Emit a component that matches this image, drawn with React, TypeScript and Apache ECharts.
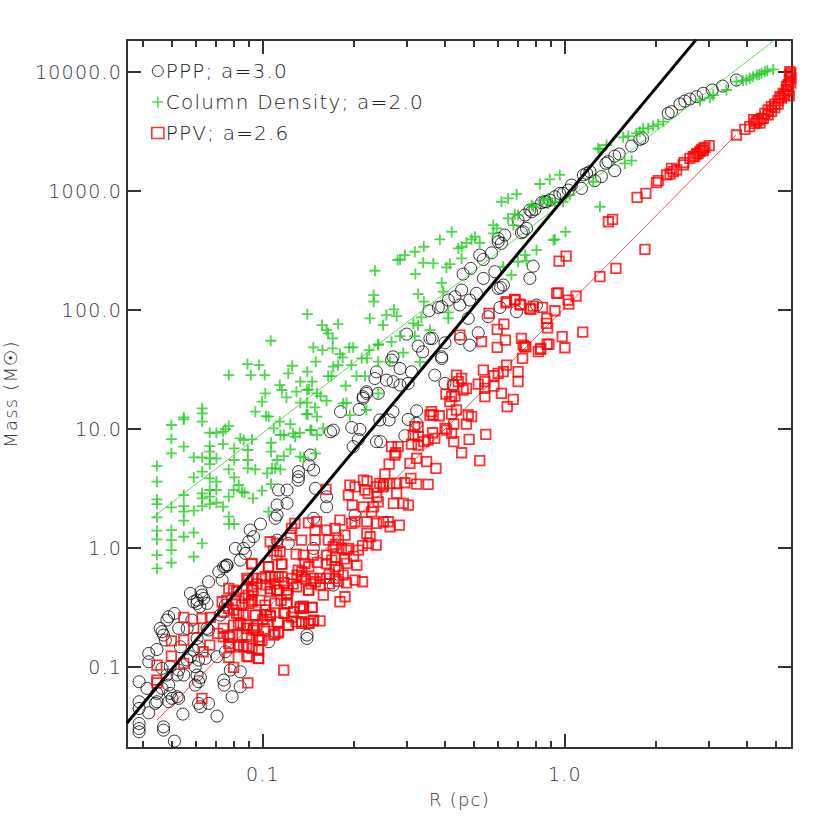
import React, { useEffect, useRef } from "react";
import * as echarts from "echarts";

// All points are [log10 R(pc), log10 Mass(Msun)].
const pppPoints: number[][] = [
[-1.41,-1.123],[-1.41,-1.291],[-1.41,-1.348],[-1.41,-1.474],[-1.41,-1.516],[-1.41,-1.544],[-1.378,-1.384],[-1.378,-0.885],[-1.378,-0.955],[-1.351,-0.852],[-1.351,-1.221],[-1.351,-1.291],[-1.329,-1.502],[-1.329,-1.53],[-1.293,-1.622],[-1.265,-1.395],[-1.312,-1.291],[-1.307,-1.221],[-1.312,-1.151],[-1.334,-1.011],[-1.307,-0.997],[-1.284,-1.067],[-1.262,-1.067],[-1.312,-0.577],[-1.293,-0.549],[-1.34,-0.675],[-1.329,-0.731],[-1.279,-0.675],[-1.24,-0.381],[-1.229,-0.451],[-1.218,-0.437],[-1.202,-0.395],[-1.196,-0.423],[-1.18,-0.283],[-1.135,-0.269],[-1.146,-0.199],[-1.124,-0.157],[-1.119,-0.143],[-1.224,-0.997],[-1.218,-1.067],[-1.213,-1.123],[-1.207,-1.087],[-1.224,-1.151],[-1.279,-1.263],[-1.301,-1.263],[-1.213,-1.305],[-1.207,-1.333],[-1.18,-1.305],[-1.152,-1.412],[-1.102,-1.249],[-1.075,-1.165],[-1.13,-1.109],[-1.128,-1.151],[-1.075,-1.039],[-1.108,-1.025],[-1.213,-0.941],[-1.191,-0.927],[-1.152,-0.913],[-1.124,-0.871],[-0.854,-0.731],[-0.854,-0.759],[-1.218,-0.465],[-1.209,-0.493],[-1.185,-0.675],[-1.218,-0.759],[-1.235,-0.605],[-1.13,-0.535],[-0.981,-0.787],
[-1.334,-0.703],[-1.318,-0.605],[-1.205,-0.367],[-1.185,-0.465],[-1.251,-0.675],[-1.229,-0.857],[-1.213,-0.829],[-1.18,-0.689],[-1.141,-0.563],[-1.124,-0.479],[-1.273,-0.829],[-1.323,-0.773],[-1.251,-0.941],[-1.24,-0.913],[-1.318,-1.067],[-1.279,-1.025],[-1.334,-1.179],[-1.284,-1.249],[-1.356,-1.305],[-1.384,-1.179],
[-0.843,0.782],[-0.848,0.698],[-0.832,0.656],[-0.882,0.642],[-0.882,0.6],[-0.826,0.502],[-0.948,0.488],[-0.92,0.488],[-0.92,0.376],[-0.953,0.362],[-0.953,0.278],[-0.959,0.25],[-1.008,0.202],[-1.042,0.151],[-1.031,0.096],[-1.047,0.053],[-1.064,-0.003],[-1.091,-0.003],[-1.058,-0.045],[-1.075,-0.101],[-1.119,-0.143],[-1.13,-0.157],[-0.953,0.067],[-0.832,0.25],
[-0.695,0.277],[-0.833,-0.003],[-0.767,-0.311],[-0.916,0.039],[-0.789,0.347],[-0.789,0.431],[-0.883,0.571],
[-0.061,2.91],[-0.077,2.902],[-0.099,2.846],[-0.116,2.84],[-0.132,2.798],[-0.155,2.756],[-0.127,2.686],[-0.138,2.658],[-0.144,2.649],[-0.199,2.63],[-0.221,2.602],[-0.21,2.56],[-0.221,2.574],[-0.243,2.481],[-0.282,2.462],[-0.27,2.425],[-0.312,2.35],[-0.337,2.302],[-0.232,2.322],[-0.27,2.266],[-0.105,2.369],[-0.116,2.266],[-0.204,2.21],[-0.213,2.19],[-0.221,2.182],[-0.293,2.14],[-0.342,2.168],[-0.364,2.112],[-0.386,2.084],[-0.408,2.028],[-0.419,2.022],[-0.45,1.994],[-0.348,2.042],[-0.315,2.084],[-0.32,1.93],[-0.254,1.944],[-0.215,2.022],[-0.16,1.986],[-0.094,2.042],[-0.287,1.809],[-0.346,1.761],[-0.315,1.705],[-0.397,1.725],[-0.447,1.761],[-0.439,1.761],[-0.486,1.697],[-0.471,1.649],[-0.408,1.607],[-0.408,1.593],[-0.524,1.798],[-0.569,1.607],[-0.574,1.579],[-0.546,1.509],[-0.624,1.481],[-0.629,1.425],[-0.591,1.411],[-0.508,1.481],[-0.431,1.453],
[-0.569,1.398],[-0.546,1.37],[-0.519,1.384],[-0.657,1.314],[-0.668,1.258],[-0.618,1.3],[-0.681,1.165],[-0.569,1.146],[-0.582,1.076],[-0.613,1.076],[-0.679,0.997],[-0.684,0.913],[-0.706,1.014],[-0.701,0.852],[-0.624,0.894],[-0.61,0.894],[-0.53,0.944],[-0.519,1.081],[-0.491,1.154],[-0.491,1.048],[-0.397,1.384],[-0.37,1.37],
[-0.743,1.146],[-0.767,0.991],[-0.776,0.977],[-0.657,1.3],[-0.668,1.272],
[0.568,3.933],[0.522,3.882],[0.488,3.849],[0.458,3.821],[0.436,3.793],[0.414,3.773],[0.397,3.756],[0.381,3.731],[0.353,3.667],[0.342,3.653],[0.257,3.443],[0.248,3.434],[0.221,3.378],[0.18,3.311],[0.165,3.294],[0.143,3.247],[0.136,3.233],[0.165,3.171],[0.121,3.121],[0.099,3.087],[0.083,3.163],[0.072,3.148],[0.061,3.135],[0.055,3.022],[0.022,3.05],[0.011,3.008],[-0.006,2.98],[-0.017,2.98],[-0.033,2.952],[-0.05,2.924],[-0.066,2.91],[-0.11,2.826]
];

const columnDensityPoints: number[][] = [
[-1.351,0.689],[-1.351,0.558],[-1.351,0.409],[-1.351,0.37],[-1.351,0.258],[-1.351,0.146],[-1.351,0.073],[-1.351,-0.059],[-1.351,-0.171],
[-1.303,1.034],[-1.303,0.916],[-1.303,0.796],[-1.303,0.342],[-1.303,0.151],[-1.303,0.067],[-1.303,-0.017],[-1.303,-0.123],
[-1.262,1.098],[-1.262,1.081],[-1.262,0.852],[-1.262,0.446],[-1.262,0.353],[-1.262,0.306],[-1.262,0.23],[-1.262,0.095],
[-1.229,0.762],[-1.229,0.594],[-1.229,0.314],[-1.229,0.129],[-1.229,-0.073],
[-1.201,1.174],[-1.201,1.132],[-1.201,1.062],[-1.201,0.762],[-1.201,0.642],[-1.201,0.46],[-1.201,0.418],[-1.201,0.353],[-1.201,0.039],
[-1.176,0.969],[-1.176,0.857],[-1.176,0.81],[-1.176,0.754],[-1.176,0.706],[-1.176,0.586],[-1.176,0.488],[-1.176,0.432],[-1.176,0.37],
[-1.154,0.969],[-1.154,0.754],[-1.154,0.558],[-1.154,0.488],[-1.154,0.381],
[-1.132,0.978],[-1.132,0.874],[-1.132,0.348],[-1.124,1.0],
[-1.113,1.025],[-1.113,0.661],[-1.113,0.432],[-1.113,0.264],[-1.113,0.202],
[-1.095,0.838],[-1.095,0.74],[-1.095,0.594],[-1.095,0.202],[-1.097,0.488],[-1.08,0.53],
[-1.075,0.922],[-1.064,0.908],[-1.069,0.474],[-1.061,0.465],[-1.05,0.824],[-1.05,0.74],[-1.05,0.67],
[-1.036,0.913],[-1.033,0.418],[-1.025,1.146],[-1.025,0.661],[-1.003,1.23],[-1.003,0.482],[-0.992,1.3],[-0.989,1.109],[-0.981,1.104],[-0.986,0.628],[-0.981,0.306],[-0.973,0.885],[-0.973,0.81],[-0.973,0.538],[-0.964,1.006],[-0.97,0.67],[-0.959,0.67],[-0.953,0.74],[-0.944,1.37],[-0.937,1.328],[-0.944,1.062],[-0.942,0.95],[-0.931,0.95],[-0.942,0.661],[-0.922,1.266],[-0.931,0.773],[-0.909,1.042],[-0.909,0.829],[-0.9,0.964],[-0.889,1.314],[-0.893,0.936],[-0.878,0.969],[-0.876,0.768],[-0.865,0.762],[-0.876,1.398],[-0.854,1.328],[-0.848,1.334],[-0.876,1.222],[-0.854,1.222],[-0.852,1.123],[-0.843,0.992],[-0.837,1.398],[-0.821,1.3],[-0.821,1.104],[-0.821,0.95],[-0.826,0.796],
[-0.629,2.33],[-0.633,2.126],[-0.633,2.07],[-0.646,1.93],[-0.853,1.966],[-0.804,1.874],[-0.789,1.832],[-0.784,1.804],[-0.751,1.882],[-0.769,1.762],[-0.974,1.742],[-0.833,1.686],[-0.803,1.664],[-0.769,1.678],[-0.714,1.686],[-0.701,1.686],[-0.745,1.63],[-0.736,1.602],[-0.825,1.566],[-0.648,1.664],[-0.673,1.594],[-0.655,1.594],[-0.618,1.706],[-0.618,1.566],[-1.051,1.546],[-1.013,1.538],[-0.903,1.532],[-1.113,1.454],[-1.04,1.454],[-0.994,1.454],[-0.916,1.468],[-0.853,1.482],[-0.751,1.538],[-0.767,1.524],[-0.707,1.538],[-0.784,1.445],[-0.773,1.445],[-0.69,1.445],[-0.662,1.445],[-0.726,1.364],[-0.809,1.277],[-0.789,1.238],[-0.828,1.182],[-0.723,1.221],[-0.734,1.215],[-0.712,1.117],[-0.657,1.16],[-0.8,1.005],[-0.839,0.991],[-0.856,1.126],[-0.618,1.3],
[-0.16,2.974],[-0.188,2.938],[-0.21,2.91],[-0.055,2.938],[-0.074,2.924],[-0.11,2.882],[-0.188,2.77],[-0.166,2.806],[-0.155,2.798],[-0.171,2.714],[-0.237,2.714],[-0.237,2.644],[-0.226,2.686],[-0.375,2.658],[-0.414,2.593],[-0.298,2.616],[-0.309,2.593],[-0.326,2.565],[-0.282,2.565],[-0.342,2.532],[-0.353,2.518],[-0.467,2.532],[-0.497,2.49],[-0.53,2.462],[-0.546,2.425],[-0.554,2.42],[-0.469,2.397],[-0.436,2.392],[-0.381,2.386],[-0.392,2.358],[-0.342,2.434],[-0.495,2.302],[-0.094,2.504],[-0.132,2.462],[-0.155,2.406],[-0.127,2.414],[-0.204,2.364],[-0.177,2.294],[-0.408,2.229],[-0.403,2.154],[-0.486,2.134],[-0.467,2.07],[-0.386,1.98],[-0.386,1.93],[-0.566,2.005],[-0.557,1.949],[-0.591,1.958],[-0.602,1.873],[-0.475,1.938],[-0.502,1.888],[-0.486,1.873],[-0.447,1.832],[-0.546,1.781],[-0.497,1.781],[-0.574,1.733],[-0.618,1.714],[-0.535,1.641],[-0.58,1.565],[-0.48,1.565],
[0.69,4.022],[0.67,4.011],[0.662,4.003],[0.651,3.989],[0.643,3.98],[0.635,3.975],[0.623,3.961],[0.612,3.947],[0.601,3.933],[0.59,3.927],[0.568,3.919],[0.535,3.849],[0.491,3.807],[0.48,3.784],[0.447,3.759],[0.326,3.583],[0.309,3.56],[0.292,3.546],[0.276,3.527],[0.259,3.527],[0.248,3.499],[0.237,3.485],[0.21,3.462],[0.193,3.451],[0.138,3.387],[0.11,3.359],[0.116,3.35],[-0.017,3.135],[-0.05,3.098],[-0.083,3.059],[0.221,3.255],[0.199,3.232],[0.116,2.868],[0.094,3.078],[0.016,2.966],[-0.006,2.91],[-0.033,2.91],[-0.055,2.896],[-0.105,2.868],[0.002,2.658],[-0.033,2.593],[-0.038,2.588]
];

const ppvPoints: number[][] = [
[-1.351,-0.983],[-1.351,-1.109],[-1.351,-1.132],[-1.303,-0.779],[-1.303,-0.908],[-1.262,-0.583],[-1.262,-0.773],[-1.262,-0.969],[-1.229,-0.675],[-1.202,-0.591],[-1.174,-0.583],[-1.198,-0.871],[-1.176,-0.815],[-1.15,-0.717],[-1.202,-1.263],[-1.113,-0.339],[-1.135,-0.451],[-1.119,-0.437],[-1.097,-0.353],[-1.097,-0.521],[-1.13,-0.535],[-1.113,-0.731],[-1.113,-0.801],[-1.113,-0.919],[-1.097,-1.003],[-1.05,-1.132],[-0.931,-1.025],[-1.014,-0.927],[-1.014,-0.857],[-1.053,-0.908],[-1.053,-0.731],[-1.08,-0.815],[-1.064,-0.829],[-1.036,-0.843],[-1.075,-0.633],[-1.097,-0.647],[-1.08,-0.549],[-1.025,-0.563],[-1.053,-0.675],[-1.031,-0.675],[-1.014,-0.773],[-0.975,-0.563],[-0.931,-0.549],[-0.92,-0.465],[-0.915,-0.647],[-0.871,-0.619],[-0.848,-0.633],[-0.865,-0.507],[-0.837,-0.499],[-0.832,-0.605],[-0.964,-0.731],[-0.948,-0.703],[-1.003,-0.773],[-1.053,-0.255],[-1.036,-0.353],[-1.036,-0.451],[-0.992,-0.241],[-0.959,-0.241],[-0.937,-0.241],[-1.036,-0.135],[-0.981,-0.157],[-0.937,-0.135],[-0.975,-0.367],[-0.953,-0.353],[-0.92,-0.381],[-0.887,-0.227],[-0.871,-0.199],[-0.848,-0.157],[-0.848,-0.353],[-0.826,-0.283],[-0.876,-0.493],[-1.047,-0.465],[-1.069,-0.731],
[-1.06,-0.42],[-1.01,-0.44],[-0.99,-0.52],[-1.065,-0.56],[-1.02,-0.65],[-0.995,-0.68],[-0.94,-0.44],[-0.9,-0.3],[-0.93,-0.29],[-0.96,-0.3],[-0.99,-0.31],[-1.02,-0.3],[-0.95,-0.62],[-0.905,-0.58],[-0.89,-0.62],[-1.07,-0.48],[-1.09,-0.47],[-0.985,-0.62],[-1.0,-0.6],[-0.86,-0.26],[-0.84,-0.3],[-0.81,-0.31],[-0.78,-0.22],[-0.78,-0.3],[-0.75,-0.28],[-0.82,-0.12],[-0.79,-0.13],[-0.76,-0.08],[-0.73,-0.09],[-0.7,-0.07],[-0.76,0.03],[-0.74,0.0],[-0.67,0.02],
[-0.791,0.493],[-0.717,0.445],[-0.712,0.529],[-0.695,0.515],[-0.704,0.361],[-0.651,0.459],[-0.662,0.487],[-0.623,0.431],[-0.601,0.529],[-0.667,0.571],[-0.557,0.459],[-0.568,0.375],[-0.535,0.375],[-0.518,0.361],[-0.557,0.543],[-0.618,0.389],[-0.634,0.347],[-0.64,0.305],[-0.667,0.347],[-0.601,0.221],[-0.585,0.221],[-0.579,0.179],[-0.548,0.193],[-0.623,0.207],[-0.656,0.221],[-0.695,0.221],[-0.706,0.207],[-0.745,0.235],[-0.761,0.165],[-0.789,0.151],[-0.728,0.109],[-0.783,0.067],[-0.894,0.207],[-0.905,0.165],[-0.908,0.109],[-0.849,0.212],[-0.822,0.221],[-0.827,0.151],[-0.827,0.067],[-0.872,0.067],[-0.976,0.053],[-0.952,0.039],[-0.943,-0.031],[-0.954,-0.059],[-0.965,-0.023],[-0.89,-0.051],[-0.866,-0.059],[-0.861,-0.129],[-0.833,-0.059],[-0.789,-0.059],[-0.767,0.011],[-0.75,0.067],[-0.772,-0.101],[-0.761,-0.157],[-0.723,-0.017],[-0.684,-0.017],[-0.717,-0.003],[-0.656,0.123],[-0.645,0.095],[-0.625,0.025],[-0.651,0.039],[-1.037,-0.129],[-0.982,-0.157],[-0.938,-0.135],[-0.723,-0.129],[-0.689,-0.143],[-0.883,-0.185],[-0.872,-0.241],[-0.905,-0.255],[-0.949,-0.241],[-0.976,-0.241],[-1.004,-0.255],[-1.032,-0.255],[-1.048,-0.269],[-1.087,-0.367],[-1.037,-0.325],[-1.032,-0.353],[-1.048,-0.395],[-1.037,-0.437],[-0.976,-0.339],[-0.954,-0.353],[-0.916,-0.353],[-0.921,-0.395],[-0.888,-0.325],[-0.849,-0.353],[-0.833,-0.255],[-0.811,-0.255],[-0.789,-0.255],[-0.75,-0.185],[-0.761,-0.255],[-0.734,-0.227],[-0.723,-0.292],[-0.695,-0.269],[-0.67,-0.283],[-0.8,-0.395],[-0.728,-0.409],[-0.745,-0.451],[-0.993,-0.479],[-0.96,-0.465],[-0.921,-0.465],[-0.877,-0.507],[-0.866,-0.488],[-0.838,-0.499],[-0.976,-0.572],[-0.987,-0.563],[-0.927,-0.549],[-0.899,-0.535],[-0.916,-0.647],[-0.872,-0.633],[-0.849,-0.633],[-0.833,-0.611],[-0.811,-0.611],[-0.96,-0.723],[-0.949,-0.712],[-1.01,-0.773],[-1.015,-0.745],[-1.032,-0.689],[-1.026,-0.563],[-1.054,-0.647],[-1.087,-0.549],[-1.081,-0.647],[-1.114,-0.507],[-1.109,-0.745],[-1.109,-0.829],[-1.081,-0.829],[-1.054,-0.824],[-1.015,-0.858],[-1.015,-0.928],[-1.048,-0.914],[-1.131,-0.675],[-1.131,-0.745],
[-0.348,1.79],[-0.276,1.734],[-0.224,1.838],[-0.202,1.882],[-0.197,1.748],[-0.224,1.686],[-0.144,1.762],[-0.133,1.692],[-0.14,1.594],[-0.061,1.888],[-0.059,1.714],[-0.081,1.67],[-0.088,1.65],[-0.193,1.538],[-0.27,1.496],[-0.204,1.482],[-0.221,1.468],[-0.155,1.482],[-0.155,1.398],[-0.235,1.448],[-0.359,1.454],[-0.342,1.426],[-0.353,1.398],[-0.287,1.378],[-0.265,1.398],[-0.265,1.342],[-0.235,1.361],[-0.326,1.342],[-0.337,1.328],[-0.37,1.37],[-0.394,1.294],[-0.375,1.272],[-0.381,1.23],[-0.364,1.277],[-0.21,1.3],[-0.265,1.272],[-0.171,1.249],[-0.191,1.188],[-0.359,1.16],[-0.442,1.146],[-0.447,1.118],[-0.436,1.118],[-0.416,1.112],[-0.375,1.126],[-0.32,1.118],[-0.309,1.104],[-0.326,1.042],[-0.368,1.042],[-0.392,0.992],[-0.397,1.006],[-0.375,0.964],[-0.262,0.955],[-0.317,0.913],[-0.438,0.969],[-0.368,0.894],[-0.431,0.922],[-0.453,0.908],[-0.467,0.894],[-0.486,0.936],[-0.486,0.866],[-0.508,0.874],[-0.497,1.02],[-0.486,1.014],[-0.502,0.95],[-0.574,0.852],[-0.552,0.852],[-0.56,0.801],[-0.563,0.782],[-0.491,0.754],[-0.458,0.726],[-0.513,0.711],[-0.427,0.669],[-0.582,0.706],[-0.596,0.622],[-0.342,0.801],[-0.282,0.734],[-0.655,0.563],[-0.613,0.543],[-0.58,0.543],[-0.53,0.549],[-0.51,0.585],[-0.491,0.538],[-0.453,0.535],[-0.624,0.515],[-0.602,0.515],
[0.158,2.762],[0.144,2.742],[0.265,2.509],[0.169,2.35],[0.116,2.28],[0.004,2.453],[-0.019,2.411],[0.037,2.117],[-0.022,2.145],[-0.027,2.14],[0.011,2.084],[0.013,2.05],[-0.033,1.994],[-0.06,1.93],[-0.057,1.851],[0.059,1.815],[-0.009,1.776],[0,1.683],[-0.053,1.711],[-0.08,1.678],[-0.138,1.706],[-0.129,1.691],[-0.193,2.07],[-0.165,2.089],[-0.149,2.05],[-0.116,2.014],[-0.113,2.005],[-0.105,2.033],[-0.074,2.022],[-0.251,1.972],[-0.195,2.061],[-0.166,2.084],[-0.147,2.042],
[0.239,2.947],[0.268,2.98],[0.303,3.07],[0.309,3.087],[0.337,3.135],[0.348,3.143],[0.359,3.163],[0.37,3.177],[0.353,3.191],[0.392,3.219],[0.394,3.238],[0.414,3.275],[0.425,3.289],[0.436,3.311],[0.447,3.331],[0.452,3.345],[0.458,3.359],[0.464,3.367],[0.478,3.381],[0.43,3.294],[0.441,3.317],[0.458,3.339],
[0.568,3.471],[0.596,3.518],[0.612,3.541],[0.629,3.569],[0.64,3.597],[0.651,3.611],[0.662,3.653],[0.673,3.681],[0.684,3.709],[0.695,3.731],[0.706,3.759],[0.712,3.793],[0.723,3.821],[0.734,3.849],[0.739,3.891],[0.743,3.933],[0.745,3.975],[0.745,4.003],[0.673,3.64],[0.684,3.67],[0.695,3.7],[0.706,3.73],[0.717,3.78],[0.728,3.81],[0.739,3.84],[0.734,3.88],[0.743,3.8],[0.748,3.91],[0.748,3.95],[0.748,3.99],[0.646,3.57],[0.657,3.61],[0.635,3.585],[0.625,3.6]
];

const pppFit: number[][] = [[-1.45,-1.47],[0.434,4.27]];
const columnDensityFit: number[][] = [[-1.368,0.252],[0.695,4.269]];
const ppvFit: number[][] = [[-1.351,-1.445],[0.566,3.47]];

const xMajorTicks = [0.1, 1];
const xMinorTicks = [0.04, 0.05, 0.06, 0.07, 0.08, 0.09, 0.2, 0.3, 0.4, 0.5, 0.6, 0.7, 0.8, 0.9, 2, 3, 4, 5];
const yMajorTicks = [0.1, 1, 10, 100, 1000, 10000];
const xRange = [0.03548, 5.65];
const yRange = [0.0209, 18580];

const toValues = (pts: number[][]) => pts.map(([r, m]) => [Math.pow(10, r), Math.pow(10, m)]);
const FONT = "DejaVu Sans";
const INK = "#333";
const TEXT = "#333";
const GREEN = "#22cc22";

export default function App() {
  const ref = useRef<HTMLDivElement>(null);
  useEffect(() => {
    const chart = echarts.init(ref.current!, undefined, { renderer: "svg" });
    const base = (extra: any) => ({
      type: "log",
      logBase: 10,
      splitLine: { show: false },
      axisLabel: { show: false },
      axisLine: { show: false, onZero: false },
      ...extra,
    });
    const xBase = { min: xRange[0], max: xRange[1] };
    const yBase = { min: yRange[0], max: yRange[1] };
    const line = { show: true, onZero: false, lineStyle: { color: INK, width: 2 } };
    const major = (vals: number[]) => ({
      show: true, inside: true, length: 14, customValues: vals, lineStyle: { color: INK, width: 2 },
    });
    const minor = {
      show: true, inside: true, length: 7, customValues: xMinorTicks, lineStyle: { color: INK, width: 2 },
    };
    const fmt = (v: number) => Number(v).toFixed(1);
    const labelStyle = { fontFamily: FONT, fontSize: 19, fontWeight: 200, color: TEXT };
    const nameStyle = { fontFamily: FONT, fontSize: 18, fontWeight: 200, color: TEXT };
    chart.setOption({
      animation: false,
      backgroundColor: "#fff",
      grid: { left: 127, right: 38, top: 40, bottom: 82, outerBoundsMode: "none" },
      legend: {
        left: 151, top: 61, padding: 0, orient: "vertical", itemGap: 11, itemWidth: 12, itemHeight: 11,
        textStyle: { fontFamily: FONT, fontSize: 20, fontWeight: 200, color: "#222", padding: [0, 0, 0, -3] },
        data: [
          { name: "PPP; a=3.0", itemStyle: { borderWidth: 1 } },
          { name: "Column Density; a=2.0", itemStyle: { borderWidth: 1.5 } },
          { name: "PPV; a=2.6", itemStyle: { borderWidth: 1.6 } },
        ],
      },
      xAxis: [
        base({
          ...xBase, position: "bottom", axisLine: line, axisTick: major(xMajorTicks),
          axisLabel: { show: true, customValues: xMajorTicks, margin: 16, formatter: fmt, ...labelStyle },
          name: "R (pc)", nameLocation: "middle", nameGap: 42, nameTextStyle: nameStyle,
        }),
        base({ ...xBase, position: "bottom", axisTick: minor }),
        base({ ...xBase, position: "top", axisLine: line, axisTick: major(xMajorTicks) }),
        base({ ...xBase, position: "top", axisTick: minor }),
      ],
      yAxis: [
        base({
          ...yBase, position: "left", axisLine: line, axisTick: major(yMajorTicks),
          axisLabel: { show: true, customValues: yMajorTicks, margin: 5, formatter: fmt, ...labelStyle },
          name: "Mass (M☉)", nameLocation: "middle", nameGap: 108, nameRotate: 90, nameTextStyle: nameStyle,
        }),
        base({ ...yBase, position: "right", axisLine: line, axisTick: major(yMajorTicks) }),
      ],
      series: [
        {
          name: "PPP; a=3.0", type: "scatter", symbol: "circle", symbolSize: 12, clip: true,
          itemStyle: { color: "transparent", borderColor: "#000", borderWidth: 1 },
          data: toValues(pppPoints),
        },
        {
          name: "Column Density; a=2.0", type: "scatter", symbol: "path://M5,0V10M0,5H10", symbolSize: 11, clip: true,
          itemStyle: { color: "transparent", borderColor: GREEN, borderWidth: 1.8 },
          data: toValues(columnDensityPoints),
        },
        {
          type: "line", showSymbol: false, symbol: "none", clip: true, silent: true,
          lineStyle: { color: GREEN, width: 0.7 }, data: toValues(columnDensityFit),
        },
        {
          type: "line", showSymbol: false, symbol: "none", clip: true, silent: true,
          lineStyle: { color: "#000", width: 3 }, data: toValues(pppFit),
        },
        {
          type: "line", showSymbol: false, symbol: "none", clip: true, silent: true,
          lineStyle: { color: "#ff0000", width: 0.7 }, data: toValues(ppvFit),
        },
        {
          name: "PPV; a=2.6", type: "scatter", symbol: "rect", symbolSize: 9.5, clip: true,
          itemStyle: { color: "transparent", borderColor: "#ff0000", borderWidth: 1.8 },
          data: toValues(ppvPoints),
        },
      ],
    });
    document.body.style.margin = "0";
    return () => chart.dispose();
  }, []);
  return (
    <div
      ref={ref}
      style={{ position: "fixed", left: 0, top: 0, width: 830, height: 830, letterSpacing: "1.2px" }}
    />
  );
}
